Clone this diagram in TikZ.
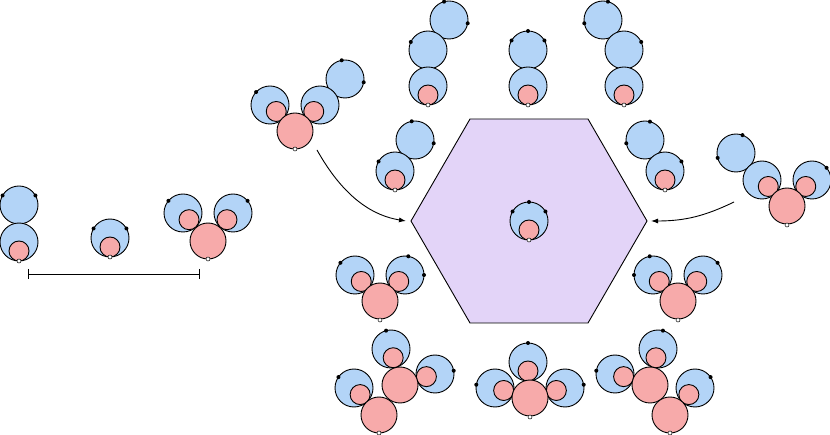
\documentclass[tikz,border=0pt]{standalone}
\usetikzlibrary{arrows.meta}
\definecolor{bl}{HTML}{B3D4F7}
\definecolor{pk}{HTML}{F7AAAA}
\definecolor{pu}{HTML}{E3D4F8}
\tikzset{blu/.style={draw=black,fill=bl,line width=0.9pt},
 pnk/.style={draw=black,fill=pk,line width=0.9pt},
 arr/.style={-{Latex[length=7pt,width=5pt]},line width=0.9pt}}
\newcommand\Bc[2]{\draw[blu] (#1,#2) circle[radius=19pt];}
\newcommand\Bp[2]{\draw[pnk] (#1,#2) circle[radius=18pt];}
\newcommand\Un[3]{\draw[blu] (#1,#2) circle[radius=19pt]; \draw[pnk] ([shift={(#3:9)}]#1,#2) circle[radius=10pt];}
\newcommand\Dt[3]{\fill ([shift={(#3:19)}]#1,#2) circle[radius=2pt];}
\newcommand\Wd[2]{\draw[fill=white,line width=0.5pt] (#1,#2) circle[radius=2pt];}
\begin{document}
\begin{tikzpicture}[x=1pt,y=-1pt]
\useasboundingbox (0,0) rectangle (830,435);
\draw[fill=pu,line width=0.9pt] (647,221)--(588,119)--(470,119)--(411,221)--(470,323)--(588,323)--cycle;
% A
\Bc{19}{205}\Dt{19}{205}{-150}\Dt{19}{205}{-30}\Un{19}{242}{90}\Wd{19}{261}
% B
\Un{110}{238}{90}\Dt{110}{238}{-150}\Dt{110}{238}{-30}\Wd{110}{257}
% C
\Un{183}{213}{48}\Un{233}{213}{132}\Bp{208}{241}\Dt{183}{213}{-140}\Dt{233}{213}{-40}\Wd{208}{259}
\draw[line width=0.9pt] (28,274)--(199,274) (28,269)--(28,279) (199,269)--(199,279);
% D
\Bc{345}{79}\Dt{345}{79}{-100}\Dt{345}{79}{10}\Un{270}{105}{46}\Un{320}{105}{134}\Bp{295}{131}\Dt{270}{105}{-137}\Wd{295}{149}
% E
\Bc{449}{20}\Dt{449}{20}{-105}\Dt{449}{20}{10}\Bc{428}{50}\Dt{428}{50}{-155}\Un{428}{86}{90}\Wd{428}{105}
% F
\Bc{528}{50}\Dt{528}{50}{-150}\Dt{528}{50}{-90}\Dt{528}{50}{-30}\Un{528}{86}{90}\Wd{528}{105}
% G
\Bc{603}{20}\Dt{603}{20}{-75}\Dt{603}{20}{-190}\Bc{624}{50}\Dt{624}{50}{-25}\Un{624}{86}{90}\Wd{624}{105}
% H
\Bc{415}{140}\Dt{415}{140}{-100}\Dt{415}{140}{10}\Un{395}{171}{90}\Dt{395}{171}{-150}\Wd{395}{190}
% center
\Un{529}{221}{90}\Dt{529}{221}{-150}\Dt{529}{221}{-90}\Dt{529}{221}{-30}\Wd{529}{240}
% I
\Bc{645}{140}\Dt{645}{140}{-75}\Dt{645}{140}{-190}\Un{665}{171}{90}\Dt{665}{171}{-30}\Wd{665}{190}
% J
\Bc{736}{153}\Dt{736}{153}{-70}\Dt{736}{153}{-195}\Un{762}{180}{46}\Un{812}{180}{134}\Bp{787}{206}\Dt{812}{180}{-40}\Wd{787}{225}
% K
\Un{355}{275}{46}\Un{405}{275}{134}\Bp{380}{301}\Dt{355}{275}{-140}\Dt{405}{275}{-80}\Dt{405}{275}{0}\Wd{380}{320}
% L
\Un{653}{275}{46}\Un{703}{275}{134}\Bp{678}{301}\Dt{653}{275}{-100}\Dt{653}{275}{180}\Dt{703}{275}{-40}\Wd{678}{320}
% M
\Un{354}{388}{47}\Un{391}{349}{76}\Un{435}{374}{163}\Bp{400}{385}\Bp{379}{415}\Dt{354}{388}{-145}\Dt{391}{349}{-105}\Dt{435}{374}{-10}\Wd{379}{433}
% N
\Un{528}{362}{90}\Un{495}{388}{16}\Un{565}{388}{164}\Bp{530}{398}\Dt{528}{362}{-90}\Dt{495}{388}{-170}\Dt{565}{388}{-10}\Wd{530}{417}
% O
\Un{615}{374}{17}\Un{658}{349}{103}\Un{695}{388}{133}\Bp{650}{385}\Bp{670}{415}\Dt{615}{374}{-170}\Dt{658}{349}{-75}\Dt{695}{388}{-35}\Wd{670}{433}
% arrows
\coordinate (la) at (317,150); \coordinate (lv) at (406,221);
\coordinate (ra) at (734,202); \coordinate (rv) at (651,221);
\draw[arr] (la) .. controls (345,200) and (375,216) .. (lv);
\draw[arr] (ra) .. controls (705,216) and (685,221) .. (rv);
\end{tikzpicture}
\end{document}
